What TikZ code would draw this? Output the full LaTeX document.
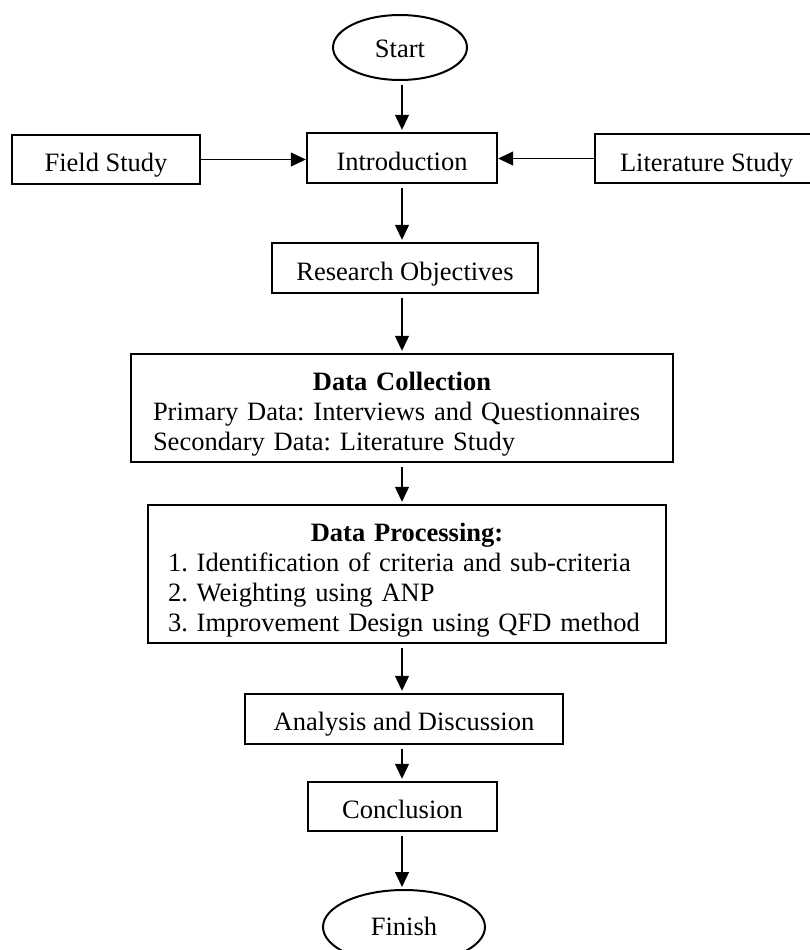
\documentclass[tikz,border=0pt]{standalone}
\usepackage{fontspec}
\setmainfont{Liberation Serif}
\usetikzlibrary{arrows.meta,shapes.geometric}
\frenchspacing
\begin{document}
\begin{tikzpicture}[x=1pt,y=-1pt,
  every node/.style={font=\fontsize{26.5}{30}\selectfont\frenchspacing},
  box/.style={draw, line width=2.4pt, rectangle, inner sep=0pt, text depth=0pt},
  oval/.style={draw, line width=2pt, ellipse, inner sep=0pt, text depth=0pt},
  arr/.style={line width=1.2pt, -{Triangle[length=15pt,width=14pt]}},
  varr/.style={arr, shorten <=4pt, shorten >=2pt}]
\path[use as bounding box, fill=white] (0,0) rectangle (810,950);
\clip (0,0) rectangle (810,950);

\node[oval, minimum width=134, minimum height=65, text height=19pt] (start) at (400,47.5) {Start};

\node[box, minimum width=188, minimum height=49, text height=24.4pt] (field) at (106,159.5) {Field Study};
\node[box, minimum width=190, minimum height=50, text height=25pt] (intro) at (402,158) {Introduction};
\node[box, minimum width=223, minimum height=49, text height=25pt] (lit) at (706.5,158.5) {Literature Study};

\node[box, minimum width=266, minimum height=50, text height=24pt] (res) at (405,268) {Research Objectives};

\node[box, minimum width=542, minimum height=108, text width=498pt, text height=0pt, text depth=36pt] (dc) at (402,408)
  {\makebox[\linewidth]{\textbf{Data Collection}}\\Primary Data: Interviews and Questionnaires\\Secondary Data: Literature Study};

\node[box, minimum width=518, minimum height=138, text width=478pt, text height=0pt, text depth=64.6pt] (dp) at (407,574)
  {\makebox[\linewidth]{\textbf{Data Processing:}}\\1. Identification of criteria and sub-criteria\\2. Weighting using ANP\\3. Improvement Design using QFD method};

\node[box, minimum width=318, minimum height=50, text height=22pt] (ana) at (404,719) {Analysis and Discussion};
\node[box, minimum width=189, minimum height=49, text height=23.6pt] (conc) at (402.5,806.5) {Conclusion};

\node[oval, minimum width=162, minimum height=74, text height=16pt] (finish) at (404,927) {Finish};

\coordinate (ax) at (402,0);
\draw[varr] (ax |- start.south) -- (ax |- intro.north);
\draw[arr] (field.east) -- (field.east -| intro.west);
\draw[arr] (lit.west) -- (lit.west -| intro.east);
\draw[varr] (ax |- intro.south) -- (ax |- res.north);
\draw[varr] (ax |- res.south) -- (ax |- dc.north);
\draw[varr] (ax |- dc.south) -- (ax |- dp.north);
\draw[varr] (ax |- dp.south) -- (ax |- ana.north);
\draw[varr] (ax |- ana.south) -- (ax |- conc.north);
\draw[varr] (ax |- conc.south) -- (ax |- finish.north);
\end{tikzpicture}
\end{document}
